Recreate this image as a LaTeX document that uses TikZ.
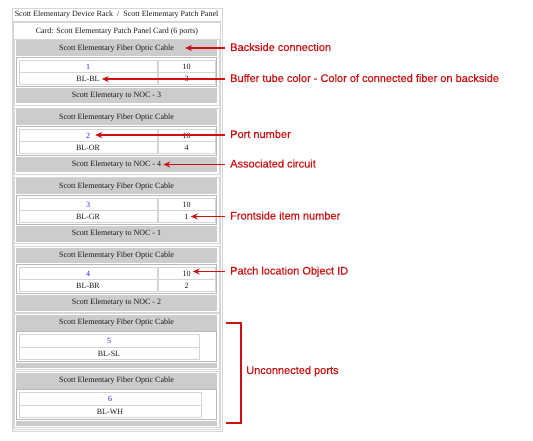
\documentclass[tikz,border=0pt]{standalone}
\usepackage{fontspec}
\setmainfont{Liberation Serif}
\newfontfamily\annfont[FakeBold=0.35]{Liberation Sans}
\usetikzlibrary{arrows.meta}
\definecolor{annred}{RGB}{204,17,17}
\definecolor{barg}{RGB}{204,204,204}
\definecolor{frameg}{RGB}{214,214,214}
\definecolor{tblg}{RGB}{185,185,185}
\definecolor{cellg}{RGB}{212,212,212}
\definecolor{linkblue}{RGB}{35,35,240}
\definecolor{txt}{RGB}{25,25,25}
\begin{document}
\begin{tikzpicture}[x=1pt,y=-1pt,
  every node/.style={inner sep=0pt, font=\fontsize{8}{9}\selectfont, text=txt},
  bar/.style={fill=barg, draw=none},
  frame/.style={draw=frameg, line width=0.8pt},
  tbl/.style={draw=tblg, line width=0.8pt},
  cell/.style={draw=cellg, line width=0.6pt},
  ann/.style={font=\annfont\fontsize{11}{13}\selectfont, text=annred, anchor=west, text height=8pt, text depth=2pt},
  annarrow/.style={draw=annred, line width=1.5pt, -{Stealth[length=7pt,width=6pt]}},
  num/.style={text=linkblue}
]
\useasboundingbox (0,0) rectangle (533,441);
\fill[white] (0,0) rectangle (533,441);
% outer frame
\draw[frame] (12,8) rectangle (222.5,431);
\draw[frame] (12,21.5) -- (222.5,21.5);
\draw[frame] (13.8,22.5) rectangle (220.5,429);
\node (hdr) at (116.5,14.5) {Scott Elementary Device Rack~~/~~Scott Elementary Patch Panel};
\node (card) at (117,32) {Card: Scott Elementary Patch Panel Card (6 ports)};
% connected ports
\foreach \i/\port/\pcol/\itm/\noc in {0/1/BL-BL/3/3, 1/2/BL-OR/4/4, 2/3/BL-GR/1/1, 3/4/BL-BR/2/2} {
  \pgfmathsetmacro\o{69*\i}
  \draw[frame] (14.8,{39+\o}) rectangle (219.5,{105.5+\o});
  \fill[bar] (16,{40.5+\o}) rectangle (217,{56+\o});
  \node (cab\i) at (116.5,{48.5+\o}) {Scott Elementary Fiber Optic Cable};
  \draw[tbl] (16.7,{57.5+\o}) rectangle (216.5,{86.5+\o});
  \draw[cell] (19,{60+\o}) rectangle (157,{72.5+\o});
  \draw[cell] (19,{72.5+\o}) rectangle (157,{84.5+\o});
  \draw[cell] (158,{60+\o}) rectangle (215,{72.5+\o});
  \draw[cell] (158,{72.5+\o}) rectangle (215,{84.5+\o});
  \node[num] (port\i) at (88,{66.5+\o}) {\port};
  \node (col\i) at (88,{78.5+\o}) {\pcol};
  \node (obj\i) at (186.5,{66.5+\o}) {10};
  \node (item\i) at (186.5,{78.5+\o}) {\itm};
  \fill[bar] (16,{88+\o}) rectangle (217,{103.5+\o});
  \node (noc\i) at (116.5,{96+\o}) {Scott Elemetary to NOC - \noc};
}
% unconnected ports
\foreach \i/\port/\pcol/\cr in {0/5/BL-SL/199, 1/6/BL-WH/201} {
  \pgfmathsetmacro\o{58*\i}
  \draw[frame] (14.8,{313+\o}) rectangle (219.5,{369.5+\o});
  \fill[bar] (16,{315+\o}) rectangle (217,{330.5+\o});
  \node (ucab\i) at (116.5,{323+\o}) {Scott Elementary Fiber Optic Cable};
  \draw[tbl] (16.7,{331.5+\o}) rectangle (216.5,{361.5+\o});
  \draw[cell] (19,{334+\o}) rectangle (\cr,{347+\o});
  \draw[cell] (19,{347+\o}) rectangle (\cr,{359.5+\o});
  \node[num] (uport\i) at ({(19+\cr)/2},{340.5+\o}) {\port};
  \node (ucol\i) at ({(19+\cr)/2},{353.5+\o}) {\pcol};
  \fill[bar] (16,{363+\o}) rectangle (217,{368+\o});
}
% annotations
\node[ann] (a1) at (230,48) {Backside connection};
\node[ann] (a2) at (230,79) {Buffer tube color - Color of connected fiber on backside};
\node[ann] (a3) at (230,135) {Port number};
\node[ann] (a4) at (230,164.5) {Associated circuit};
\node[ann] (a5) at (230,216.5) {Frontside item number};
\node[ann] (a6) at (230,271.5) {Patch location Object ID};
\node[ann] (a7) at (246,371) {Unconnected ports};
\coordinate (t1) at ([xshift=11pt]cab0.east);
\coordinate (t2) at ([xshift=2pt]col0.east);
\coordinate (t3) at ([xshift=5pt]port1.east);
\coordinate (t4) at ([xshift=2pt]noc1.east);
\coordinate (t5) at ([xshift=2pt]item2.east);
\coordinate (t6) at ([xshift=2pt]obj3.east);
\draw[annarrow] ([xshift=-5pt]a1.west) -- (a1.west -| t1);
\draw[annarrow] ([xshift=-5pt]a2.west) -- (a2.west -| t2);
\draw[annarrow] ([xshift=-5pt]a3.west) -- (a3.west -| t3);
\draw[annarrow] ([xshift=-5pt]a4.west) -- (a4.west -| t4);
\draw[annarrow] ([xshift=-5pt]a5.west) -- (a5.west -| t5);
\draw[annarrow] ([xshift=-5pt]a6.west) -- (a6.west -| t6);
\coordinate (bt0) at (226,323);
\coordinate (bt) at (241,323);
\coordinate (bb) at (241,423);
\coordinate (bb0) at (226,423);
\draw[annred, line width=1.5pt] (bt0) -- (bt) -- (bb) -- (bb0);
\end{tikzpicture}
\end{document}
